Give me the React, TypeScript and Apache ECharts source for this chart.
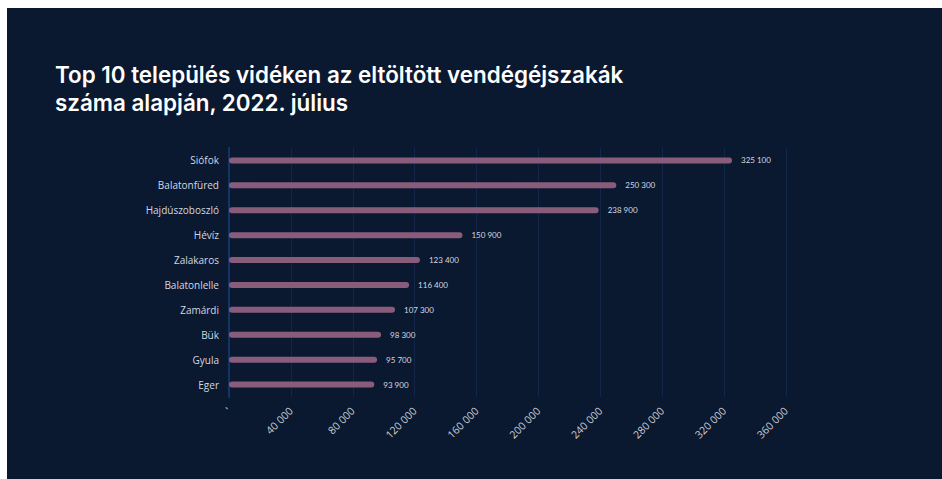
import React, { useEffect, useRef } from "react";
import * as echarts from "echarts";

const titleLines = [
  "Top 10 település vidéken az eltöltött vendégéjszakák",
  "száma alapján, 2022. július",
];
const categories = [
  "Siófok",
  "Balatonfüred",
  "Hajdúszoboszló",
  "Hévíz",
  "Zalakaros",
  "Balatonlelle",
  "Zamárdi",
  "Bük",
  "Gyula",
  "Eger",
];
const values = [325100, 250300, 238900, 150900, 123400, 116400, 107300, 98300, 95700, 93900];
const xMin = 0;
const xMax = 360000;
const xInterval = 40000;

const fmt = (v: number) => {
  if (v === 0) return "'";
  const s = String(Math.round(v));
  return s.replace(/\B(?=(\d{3})+(?!\d))/g, " ");
};

export default function App() {
  const ref = useRef<HTMLDivElement>(null);
  useEffect(() => {
    document.body.style.margin = "0";
    document.body.style.overflow = "hidden";
    const chart = echarts.init(ref.current!, undefined, { renderer: "svg" });
    const titleStyle = {
      color: "#ffffff",
      fontSize: 22.4,
      fontWeight: 600,
      lineHeight: 27,
      fontFamily: "Inter, sans-serif",
    };
    chart.setOption({
      animation: false,
      backgroundColor: "#0a1930",
      textStyle: { fontFamily: "Lato, sans-serif" },
      title: titleLines.map((t, i) => ({
        text: t,
        left: 48,
        top: 53 + i * 27.5,
        padding: 0,
        textStyle: titleStyle,
      })),
      grid: { left: 222, right: 156, top: 140, bottom: 82, containLabel: false },
      xAxis: {
        type: "value",
        min: xMin,
        max: xMax,
        interval: xInterval,
        axisLine: { show: false },
        axisTick: { show: false },
        splitLine: { show: true, lineStyle: { color: "#12264a", width: 1 } },
        axisLabel: {
          rotate: 45,
          color: "#c9ced8",
          fontSize: 10.5,
          margin: 12,
          fontFamily: "'Open Sans', sans-serif",
          formatter: fmt,
        },
      },
      yAxis: {
        type: "category",
        inverse: true,
        data: categories,
        axisLine: { show: true, lineStyle: { color: "#133566", width: 2 } },
        axisTick: { show: false },
        axisLabel: {
          color: "#d4d8e0",
          fontSize: 10,
          margin: 10,
          fontFamily: "'Open Sans', sans-serif",
        },
      },
      series: [
        {
          type: "bar",
          data: values,
          barWidth: 6,
          itemStyle: { color: "#8a5c7c", borderRadius: 3 },
          label: {
            show: true,
            position: "right",
            distance: 9,
            color: "#d4d8e0",
            fontSize: 8,
            formatter: (p: any) => fmt(p.value),
          },
        },
      ],
    });
    return () => chart.dispose();
  }, []);
  return (
    <div style={{ width: 942, height: 479, background: "#ffffff", position: "relative" }}>
      <div
        ref={ref}
        style={{ position: "absolute", left: 7, top: 8, width: 935, height: 471 }}
      />
    </div>
  );
}
